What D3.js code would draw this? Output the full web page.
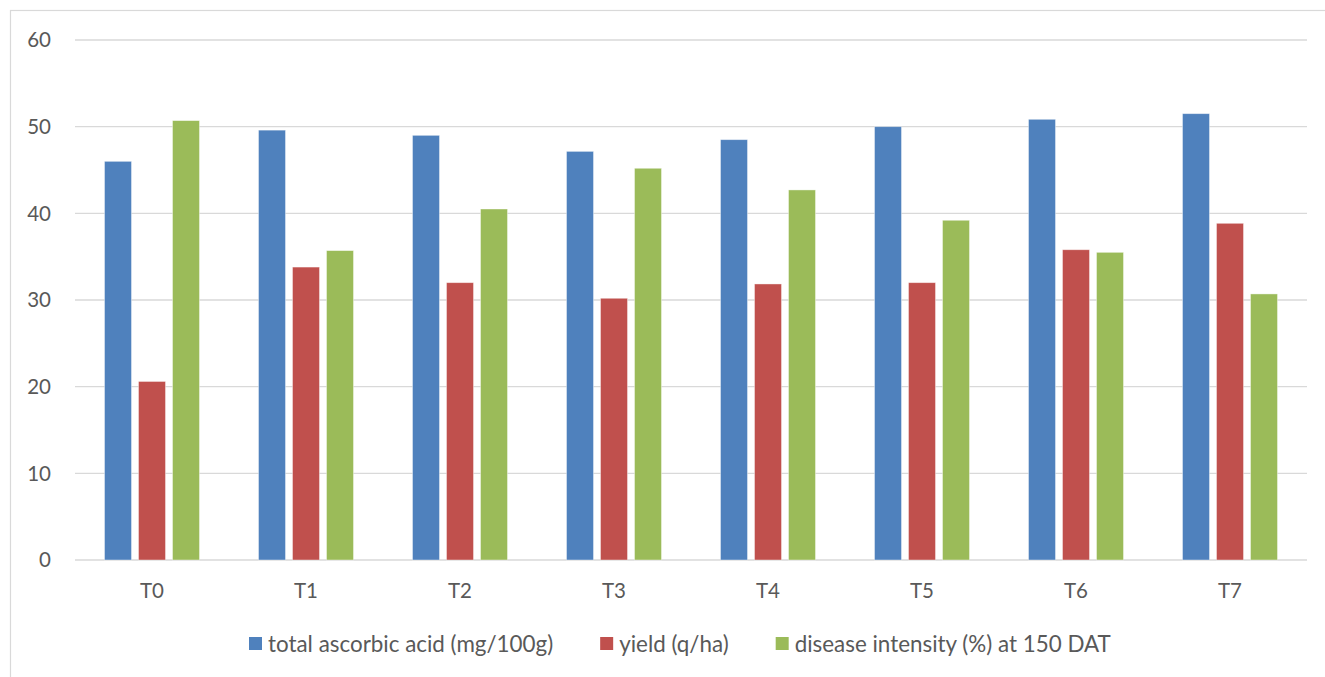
<!DOCTYPE html>
<html>
<head>
<meta charset="utf-8">
<script src="https://cdn.jsdelivr.net/npm/d3@7"></script>
<style>
  body { margin: 0; background: #fff; }
  text { font-family: Lato, "Open Sans", sans-serif; fill: #595959; }
</style>
</head>
<body>
<div id="chart"></div>
<script>
const categories = ["T0", "T1", "T2", "T3", "T4", "T5", "T6", "T7"];
const seriesNames = ["total ascorbic acid (mg/100g)", "yield (q/ha)", "disease intensity (%) at 150 DAT"];
const ascorbic = [46.0, 49.6, 49.0, 47.15, 48.5, 50.0, 50.85, 51.5];
const yieldQ = [20.6, 33.8, 32.0, 30.2, 31.85, 32.0, 35.8, 38.85];
const disease = [50.7, 35.7, 40.5, 45.2, 42.7, 39.2, 35.5, 30.7];
const yTicks = [0, 10, 20, 30, 40, 50, 60];
const colors = ["#4F81BD", "#C0504D", "#9BBB59"];

const series = [ascorbic, yieldQ, disease];
const width = 1325, height = 677;
const plot = { left: 75, right: 1307, top: 40, bottom: 560 };

const svg = d3.select("#chart").append("svg")
    .attr("width", width)
    .attr("height", height);

// Chart border
svg.append("rect")
    .attr("x", 10.5).attr("y", 10.5)
    .attr("width", width + 20).attr("height", height + 20)
    .attr("fill", "none")
    .attr("stroke", "#D9D9D9")
    .attr("stroke-width", 1.2);

const x = d3.scaleBand()
    .domain(categories)
    .range([plot.left, plot.right]);

const y = d3.scaleLinear()
    .domain([0, 60])
    .range([plot.bottom, plot.top]);

const barW = 27, barStep = 34;

// Gridlines
svg.append("g")
    .selectAll("line")
    .data(yTicks)
    .join("line")
    .attr("x1", plot.left)
    .attr("x2", plot.right)
    .attr("y1", d => y(d))
    .attr("y2", d => y(d))
    .attr("stroke", "#D9D9D9")
    .attr("stroke-width", 1.3);

// Y tick labels
svg.append("g")
    .selectAll("text")
    .data(yTicks)
    .join("text")
    .attr("x", 51)
    .attr("y", d => y(d))
    .attr("dy", "0.36em")
    .attr("text-anchor", "end")
    .style("font-size", "20.5px")
    .text(d => d);

// Bars
series.forEach((vals, si) => {
    svg.append("g")
        .selectAll("rect")
        .data(vals)
        .join("rect")
        .attr("x", (d, i) => x(categories[i]) + x.bandwidth() / 2 + (si - 1) * barStep - barW / 2)
        .attr("y", d => y(d))
        .attr("width", barW)
        .attr("height", d => y(0) - y(d))
        .attr("fill", colors[si])
        .attr("stroke", "rgba(255,255,255,0.5)")
        .attr("stroke-width", 0.8);
});

// Category labels
svg.append("g")
    .selectAll("text")
    .data(categories)
    .join("text")
    .attr("x", d => x(d) + x.bandwidth() / 2)
    .attr("y", 591)
    .attr("dy", "0.36em")
    .attr("text-anchor", "middle")
    .style("font-size", "20.5px")
    .text(d => d);

// Legend
const items = svg.append("g")
    .selectAll("g")
    .data(seriesNames)
    .join("g");
items.append("rect")
    .attr("width", 13).attr("height", 13)
    .attr("y", -7)
    .attr("fill", (d, i) => colors[i]);
items.append("text")
    .attr("x", 19)
    .attr("dy", "0.36em")
    .style("font-size", "22.4px")
    .text(d => d);

const gap = 47;
const widths = items.nodes().map(n => n.getBBox().width);
let cx = 249;
items.attr("transform", (d, i) => {
    const t = `translate(${cx},644)`;
    cx += widths[i] + gap;
    return t;
});
</script>
</body>
</html>
